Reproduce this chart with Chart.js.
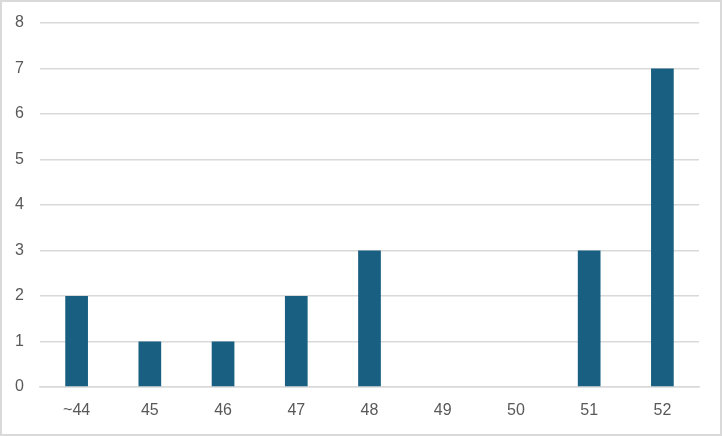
<!DOCTYPE html>
<html>
<head>
<meta charset="utf-8">
<script src="https://cdn.jsdelivr.net/npm/chart.js@4"></script>
<style>
  html, body { margin: 0; padding: 0; background: #fff; }
  #wrap { width: 722px; height: 436px; box-sizing: border-box; border: 2px solid #d9d9d9; position: relative; }
</style>
</head>
<body>
<div id="wrap"><canvas id="c"></canvas></div>
<script>
// categories and counts
const categories = ['~44', '45', '46', '47', '48', '49', '50', '51', '52'];
const counts = [2, 1, 1, 2, 3, 0, 0, 3, 7];

const ctx = document.getElementById('c').getContext('2d');

new Chart(ctx, {
  type: 'bar',
  data: {
    labels: categories,
    datasets: [{
      data: counts,
      backgroundColor: '#185f82',
      barPercentage: 0.31,
      categoryPercentage: 1.0
    }]
  },
  options: {
    responsive: true,
    maintainAspectRatio: false,
    animation: false,
    layout: { padding: { left: 0, right: 21, top: 21, bottom: 0 } },
    plugins: {
      legend: { display: false },
      tooltip: { enabled: false }
    },
    scales: {
      x: {
        grid: { display: false, drawTicks: false },
        border: { display: true, color: '#d9d9d9', width: 1.5 },
        ticks: { color: '#595959', font: { family: 'Liberation Sans', size: 16 }, padding: 14 },
        afterFit: (s) => { s.height = 47; }
      },
      y: {
        min: 0,
        max: 8,
        grid: { color: '#d9d9d9', lineWidth: 1.5, drawTicks: false },
        border: { display: false },
        ticks: { stepSize: 1, color: '#595959', font: { family: 'Liberation Sans', size: 16 }, padding: 16 },
        afterFit: (s) => { s.width = 38; s.paddingTop = 0; s.paddingBottom = 0; }
      }
    }
  }
});
</script>
</body>
</html>
